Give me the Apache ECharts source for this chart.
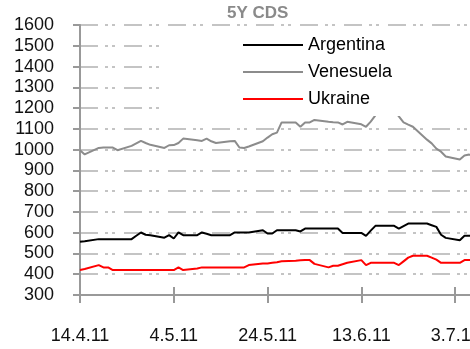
<!DOCTYPE html>
<html>
<head>
<meta charset="utf-8">
<script src="https://cdn.jsdelivr.net/npm/echarts@6/dist/echarts.min.js"></script>
<style>html,body{margin:0;padding:0;background:#fff;}#c{width:470px;height:349px;}</style>
</head>
<body>
<div id="c"></div>
<script>
const title = '5Y CDS';
const seriesNames = ['Argentina', 'Venesuela', 'Ukraine'];
const dates = ['2011-04-14','2011-04-15','2011-04-18','2011-04-19','2011-04-20','2011-04-21','2011-04-22',
'2011-04-25','2011-04-26','2011-04-27','2011-04-28','2011-04-29',
'2011-05-02','2011-05-03','2011-05-04','2011-05-05','2011-05-06',
'2011-05-09','2011-05-10','2011-05-11','2011-05-12','2011-05-13',
'2011-05-16','2011-05-17','2011-05-18','2011-05-19','2011-05-20',
'2011-05-23','2011-05-24','2011-05-25','2011-05-26','2011-05-27',
'2011-05-30','2011-05-31','2011-06-01','2011-06-02','2011-06-03',
'2011-06-06','2011-06-07','2011-06-08','2011-06-09','2011-06-10',
'2011-06-13','2011-06-14','2011-06-15','2011-06-16','2011-06-17',
'2011-06-20','2011-06-21','2011-06-22','2011-06-23','2011-06-24',
'2011-06-27','2011-06-28','2011-06-29','2011-06-30','2011-07-01',
'2011-07-04','2011-07-05','2011-07-06','2011-07-07'];
const argentina = [556,559,569,569,569,569,569,569,585,601,590,588,576,588,572,601,588,588,601,595,588,588,588,601,601,601,601,612,596,596,612,612,612,606,620,620,620,620,620,620,599,599,599,585,610,633,633,633,620,632,644,644,644,636,628,590,575,564,585,585,585];
const venesuela = [997,977,1008,1010,1010,1010,997,1018,1030,1042,1032,1023,1008,1021,1022,1032,1053,1045,1042,1053,1040,1032,1040,1042,1010,1008,1015,1040,1058,1074,1082,1131,1131,1110,1131,1131,1143,1134,1132,1131,1121,1134,1122,1110,1135,1165,1210,1195,1160,1131,1120,1110,1048,1030,1005,990,967,952,972,976,970];
const ukraine = [420,425,444,433,433,420,420,420,420,420,420,420,420,420,420,433,420,428,433,433,433,433,433,433,433,433,444,452,452,455,458,462,465,467,468,468,450,433,441,441,448,455,468,444,455,455,455,455,444,462,480,489,489,480,470,455,455,455,468,468,468];
const xTickDates = ['2011-04-14','2011-05-04','2011-05-24','2011-06-13','2011-07-03'];
const yMin = 300, yMax = 1600, yStep = 100;

const DAY = 86400000;
const base = Date.parse(dates[0]);
const toOff = s => Math.round((Date.parse(s) - base) / DAY);
const fmt = off => { const d = new Date(base + off * DAY); return d.getUTCDate() + '.' + (d.getUTCMonth() + 1) + '.' + String(d.getUTCFullYear()).slice(2); };
const tickStep = toOff(xTickDates[1]) - toOff(xTickDates[0]);
const pairs = arr => dates.map((d, i) => [toOff(d), arr[i]]);

const FONT = '"Liberation Sans", Arial, sans-serif';
const gridDash = [18, 7, 3, 4, 3, 9];
const chart = echarts.init(document.getElementById('c'), null, {renderer: 'canvas'});
chart.setOption({
  animation: false,
  backgroundColor: '#fff',
  title: {
    text: title, left: 222, top: 0,
    textStyle: {fontFamily: FONT, fontSize: 17, fontWeight: 'bold', color: '#8a8a8a'}
  },
  legend: {
    orient: 'vertical', left: 160, top: 30,
    padding: [5, 120, 7, 83],
    backgroundColor: '#fff',
    icon: 'rect',
    itemWidth: 60, itemHeight: 2, itemGap: 7,
    textStyle: {fontFamily: FONT, fontSize: 18, color: '#000', lineHeight: 20, height: 20},
    data: seriesNames
  },
  grid: {left: 80, top: 25, width: 422, height: 270, containLabel: false, outerBoundsMode: 'none'},
  xAxis: [{
    type: 'value', min: 0, max: 90, interval: tickStep,
    axisLine: {show: true, lineStyle: {color: '#999', width: 2}},
    axisTick: {show: true, length: 8, lineStyle: {color: '#999', width: 2}},
    axisLabel: {margin: 32, fontFamily: FONT, fontSize: 18, color: '#111', formatter: v => fmt(v), showMaxLabel: false},
    splitLine: {show: false}
  }, {
    type: 'value', min: 0, max: 90, interval: tickStep, position: 'bottom',
    axisLine: {show: false},
    axisTick: {show: true, inside: true, length: 8, lineStyle: {color: '#999', width: 2}},
    axisLabel: {show: false}, splitLine: {show: false}
  }],
  yAxis: {
    type: 'value', min: yMin, max: yMax, interval: yStep,
    axisLine: {show: true, lineStyle: {color: '#999', width: 2}},
    axisTick: {show: true, length: 7, lineStyle: {color: '#999', width: 2}},
    axisLabel: {margin: 26, fontFamily: FONT, fontSize: 18, color: '#111', formatter: v => String(v)},
    splitLine: {show: true, lineStyle: {color: '#c4c4c4', width: 2, type: gridDash}}
  },
  series: [
    {name: seriesNames[0], type: 'line', data: pairs(argentina), symbol: 'none', lineStyle: {color: '#000', width: 2}, itemStyle: {color: '#000'}, z: 3},
    {name: seriesNames[1], type: 'line', data: pairs(venesuela), symbol: 'none', lineStyle: {color: '#8c8c8c', width: 2}, itemStyle: {color: '#8c8c8c'}, z: 2},
    {name: seriesNames[2], type: 'line', data: pairs(ukraine), symbol: 'none', lineStyle: {color: '#ff0000', width: 2}, itemStyle: {color: '#ff0000'}, z: 3}
  ]
});
</script>
</body>
</html>
